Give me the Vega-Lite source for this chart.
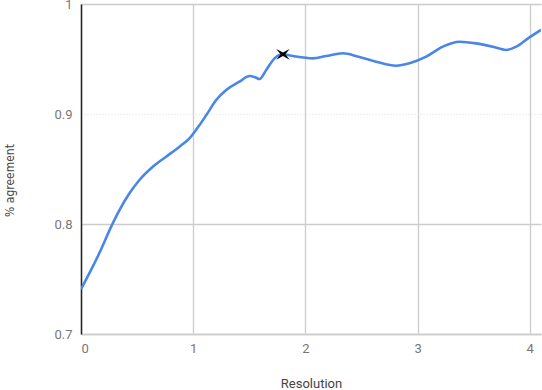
{
  "$schema": "https://vega.github.io/schema/vega-lite/v6.json",
  "width": 460,
  "height": 330,
  "autosize": {"type": "none"},
  "padding": {"left": 81, "top": 4, "right": 1, "bottom": 56},
  "config": {
    "view": {"stroke": null},
    "font": "Roboto",
    "axis": {
      "labelFont": "Roboto",
      "labelColor": "#777777",
      "labelFontSize": 13,
      "tickSize": 0,
      "gridColor": "#cccccc",
      "gridOpacity": 1,
      "gridWidth": 1.3,
      "titleFontWeight": "normal",
      "titleColor": "#444444"
    }
  },
  "datasets": {
    "curve": [
      {"res": 0.0, "agree": 0.7406},
      {"res": 0.076, "agree": 0.7555},
      {"res": 0.165, "agree": 0.7738},
      {"res": 0.269, "agree": 0.7976},
      {"res": 0.343, "agree": 0.8127},
      {"res": 0.432, "agree": 0.8279},
      {"res": 0.521, "agree": 0.840},
      {"res": 0.64, "agree": 0.852},
      {"res": 0.759, "agree": 0.8612},
      {"res": 0.878, "agree": 0.8703},
      {"res": 0.967, "agree": 0.8779},
      {"res": 1.05, "agree": 0.889},
      {"res": 1.12, "agree": 0.8995},
      {"res": 1.205, "agree": 0.9127},
      {"res": 1.294, "agree": 0.9218},
      {"res": 1.413, "agree": 0.9294},
      {"res": 1.502, "agree": 0.9345},
      {"res": 1.55, "agree": 0.9335},
      {"res": 1.591, "agree": 0.9318},
      {"res": 1.651, "agree": 0.940},
      {"res": 1.725, "agree": 0.9506},
      {"res": 1.799, "agree": 0.9543},
      {"res": 1.888, "agree": 0.9527},
      {"res": 2.066, "agree": 0.9506},
      {"res": 2.185, "agree": 0.9527},
      {"res": 2.333, "agree": 0.9552},
      {"res": 2.482, "agree": 0.9518},
      {"res": 2.631, "agree": 0.9476},
      {"res": 2.809, "agree": 0.9439},
      {"res": 2.928, "agree": 0.9461},
      {"res": 3.077, "agree": 0.9521},
      {"res": 3.225, "agree": 0.9612},
      {"res": 3.373, "agree": 0.9657},
      {"res": 3.522, "agree": 0.9642},
      {"res": 3.67, "agree": 0.9612},
      {"res": 3.789, "agree": 0.9582},
      {"res": 3.879, "agree": 0.9612},
      {"res": 3.997, "agree": 0.9697},
      {"res": 4.1, "agree": 0.9765}
    ],
    "best": [
      {"res": 1.8, "agree": 0.9543}
    ]
  },
  "layer": [
    {
      "data": {"name": "curve"},
      "mark": {"type": "line", "color": "#4a86e8", "strokeWidth": 2.6, "interpolate": "monotone", "clip": true},
      "encoding": {
        "x": {
          "field": "res",
          "type": "quantitative",
          "title": "Resolution",
          "scale": {"domain": [0, 4.1], "nice": false, "zero": false},
          "axis": {
            "values": [0, 1, 2, 3, 4],
            "format": "d",
            "domainColor": "#cccccc",
            "domainWidth": 1.3,
            "labelPadding": 8,
            "titleFontSize": 13,
            "titlePadding": 22,
            "titleFont": "Roboto"
          }
        },
        "y": {
          "field": "agree",
          "type": "quantitative",
          "title": "% agreement",
          "scale": {"domain": [0.7, 1], "nice": false, "zero": false},
          "axis": {
            "values": [0.7, 0.8, 0.9, 1],
            "labelExpr": "datum.value == 1 ? '1' : format(datum.value, '.1f')",
            "domainColor": "#222222",
            "domainWidth": 1.5,
            "labelPadding": 9,
            "titleFont": "'DejaVu Sans Condensed', 'Liberation Sans Narrow', Roboto",
            "titleFontSize": 12,
            "titleAngle": -90,
            "titleBaseline": "middle",
            "titleX": -72,
            "titleY": 176,
            "gridDash": {"condition": {"test": "datum.value == 0.9", "value": [1, 2]}, "value": []},
            "gridColor": {"condition": {"test": "datum.value == 0.9", "value": "#e6e6e6"}, "value": "#cccccc"}
          }
        }
      }
    },
    {
      "data": {"name": "best"},
      "mark": {
        "type": "point",
        "shape": "M-1,-0.8 L0,-0.25 L1,-0.8 L0.35,0 L1,0.8 L0,0.25 L-1,0.8 L-0.35,0 Z",
        "filled": true,
        "color": "#000000",
        "size": 180,
        "opacity": 1
      },
      "encoding": {
        "x": {"field": "res", "type": "quantitative"},
        "y": {"field": "agree", "type": "quantitative"}
      }
    }
  ]
}
